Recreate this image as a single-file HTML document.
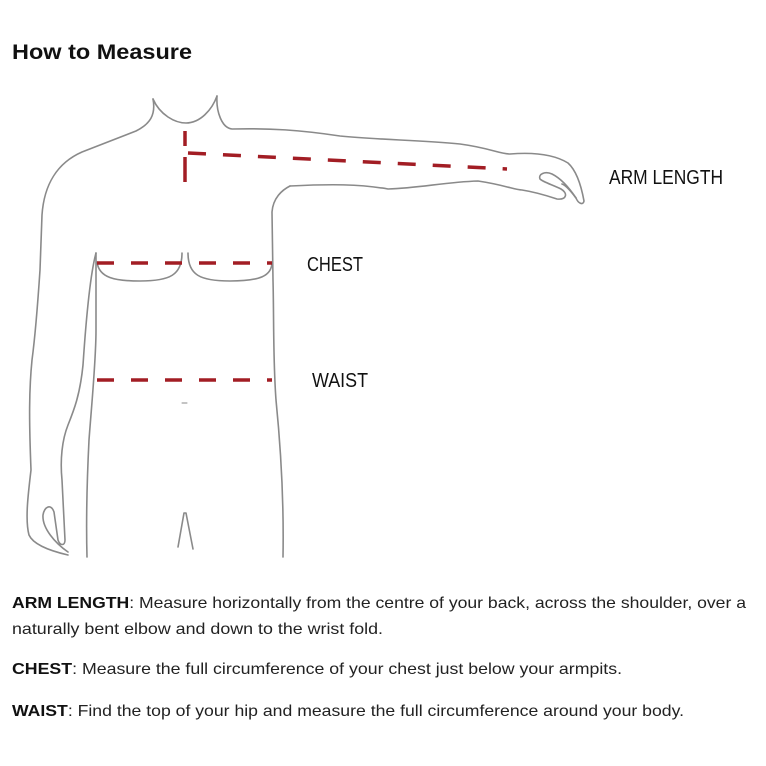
<!DOCTYPE html>
<html><head><meta charset="utf-8"><style>
html,body{margin:0;padding:0;background:#fff;width:766px;height:766px;overflow:hidden}
svg{display:block}
</style></head><body>
<svg width="766" height="766" viewBox="0 0 766 766" xmlns="http://www.w3.org/2000/svg" font-family="Liberation Sans, sans-serif">
<text x="12" y="59" font-size="21" font-weight="bold" fill="#111" textLength="180" lengthAdjust="spacingAndGlyphs">How to Measure</text>
<g fill="none" stroke="#8a8a8a" stroke-width="1.6" stroke-linecap="round" stroke-linejoin="round">
<path d="M153,99 C156,115 150,124 136,131 L82,152 C57,163 44,185 42,215 L40,270 C38,300 36,330 32,360 C29,390 29,420 31,470 C28,495 25,520 29,535 C34,546 55,552 68,555"/>
<path d="M96,253 C90,275 86,320 83,365 C80,395 74,410 68,425 C62,440 60,460 62,480 L65,540 C65,546 60,546 58,540 L54,512 C51,503 44,507 43,515 C42,528 55,543 68,552"/>
<path d="M96,253 L96,330 C96,360 92,400 89,440 C87,480 86,520 87,557"/>
<path d="M290,186 C282,190 273,198 272,212 L273,280 C274,320 273,360 276,400 C281,450 284,500 283,557"/>
<path d="M153,99 C160,115 175,123 186,123 C200,123 212,110 217,96"/>
<path d="M217,96 C216,112 222,128 232,129 C270,128 300,130 340,136 C380,140 420,140 460,144 C490,148 500,154 510,154 C535,152 555,155 568,163 C578,172 582,190 584,201 C583,206 578,203 576,198 C570,190 565,185 562,184"/>
<path d="M290,186 L290,186 C330,184 360,184 388,189 C420,188 445,182 478,181 C505,185 515,190 522,190 C535,192 548,196 557,199 C567,200 568,193 561,189 C553,185 543,182 540,179 C538,174 545,171 552,174 C560,178 568,186 576,198"/>
<path d="M97,262 C99,278 115,281 140,281 C170,281 182,275 182,253"/>
<path d="M188,253 C188,275 200,281 230,281 C260,281 272,276 272,262"/>
<path d="M178,547 L184,513 L186,513 L193,549"/>
<path d="M182,403 L187,403" stroke-width="1"/>
</g>
<g stroke="#a21d24" stroke-width="3.5" fill="none">
<path d="M185,131 L185,146 M185,157 L185,182"/>
<path d="M188,153 L507,169" stroke-dasharray="18,17"/>
<path d="M97,263 L272,263" stroke-dasharray="17,17"/>
<path d="M97,380 L272,380" stroke-dasharray="17,17"/>
</g>
<g font-size="20" fill="#111">
<text x="609" y="184" textLength="114" lengthAdjust="spacingAndGlyphs">ARM LENGTH</text>
<text x="307" y="271" textLength="56" lengthAdjust="spacingAndGlyphs">CHEST</text>
<text x="312" y="387" textLength="56" lengthAdjust="spacingAndGlyphs">WAIST</text>
</g>
<g font-size="16" fill="#222">
<text x="12" y="608" textLength="734" lengthAdjust="spacingAndGlyphs"><tspan font-weight="bold" fill="#111">ARM LENGTH</tspan>: Measure horizontally from the centre of your back, across the shoulder, over a</text>
<text x="12" y="634" textLength="371" lengthAdjust="spacingAndGlyphs">naturally bent elbow and down to the wrist fold.</text>
<text x="12" y="674" textLength="610" lengthAdjust="spacingAndGlyphs"><tspan font-weight="bold" fill="#111">CHEST</tspan>: Measure the full circumference of your chest just below your armpits.</text>
<text x="12" y="716" textLength="672" lengthAdjust="spacingAndGlyphs"><tspan font-weight="bold" fill="#111">WAIST</tspan>: Find the top of your hip and measure the full circumference around your body.</text>
</g>
</svg>
</body></html>
